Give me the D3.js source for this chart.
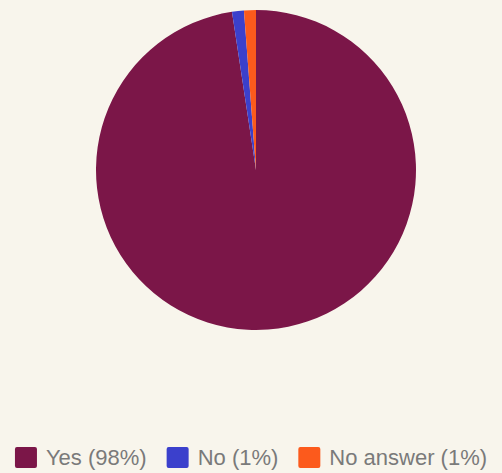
<!DOCTYPE html>
<html lang="en">
<head>
  <meta charset="UTF-8">
  <title>Pie</title>
  <style>
    html, body { margin: 0; padding: 0; background: #f8f5ec; }
    svg { display: block; }
  </style>
</head>
<body>
  <svg id="chart" width="502" height="473"></svg>
  <script src="https://d3js.org/d3.v7.min.js"></script>
  <script>
    const labels = ["Yes", "No", "No answer"];
    const values = [97.6, 1.2, 1.2];
    const legendText = ["Yes (98%)", "No (1%)", "No answer (1%)"];
    const colors = ["#7b1648", "#3b40cc", "#fc5a1c"];

    const svg = d3.select("#chart");
    const W = 502, cx = 256, cy = 170, r = 160;

    const data = labels.map((l, i) => ({ label: l, value: values[i], color: colors[i], text: legendText[i] }));

    const pie = d3.pie().value(d => d.value).sort(null);
    const arc = d3.arc().innerRadius(0).outerRadius(r);

    svg.append("g")
      .attr("transform", `translate(${cx},${cy})`)
      .selectAll("path")
      .data(pie(data))
      .join("path")
      .attr("d", arc)
      .attr("fill", d => d.data.color);

    // legend
    const sq = 22, gapText = 9, gapItem = 20, fontSize = 22;
    const legend = svg.append("g");
    const items = legend.selectAll("g")
      .data(data)
      .join("g");
    items.append("rect")
      .attr("width", sq).attr("height", 21)
      .attr("y", 447).attr("rx", 2)
      .attr("fill", d => d.color);
    const texts = items.append("text")
      .attr("x", sq + gapText)
      .attr("y", 465)
      .attr("font-family", "Liberation Sans, Arial, sans-serif")
      .attr("font-size", fontSize)
      .attr("fill", "#7a7a7a")
      .text(d => d.text);

    const widths = texts.nodes().map(n => n.getComputedTextLength());
    const total = widths.reduce((a, w) => a + sq + gapText + w, 0) + gapItem * (widths.length - 1);
    let x = (W - total) / 2;
    items.each(function(d, i) {
      d3.select(this).attr("transform", `translate(${x},0)`);
      x += sq + gapText + widths[i] + gapItem;
    });
  </script>
</body>
</html>
